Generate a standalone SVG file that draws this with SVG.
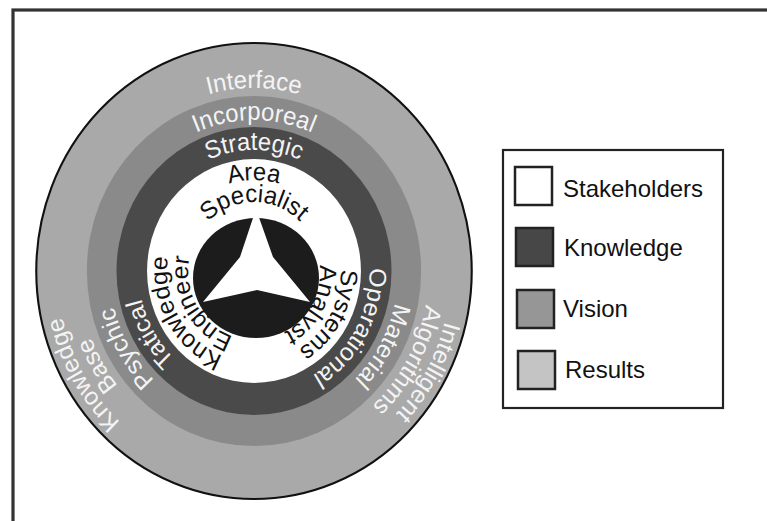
<svg xmlns="http://www.w3.org/2000/svg" xmlns:xlink="http://www.w3.org/1999/xlink" width="767" height="521" viewBox="0 0 767 521">
<style>
  .lbl { font-family: "Liberation Sans", Arial, sans-serif; font-size: 24px; }
  .rl { font-family: "Liberation Sans", Arial, sans-serif; font-size: 25px; }
  .wt { fill: #f4f4f4; }
  .bk { fill: #111; }
  .sw { stroke: #222; stroke-width: 2.5; }
</style>
<defs>
  <path id="p69" d="M-67.95,11.98 A69,69 0 1 1 67.95,11.98"/>
  <path id="p91" d="M-89.62,15.80 A91,91 0 1 1 89.62,15.80"/>
  <path id="p121" d="M-119.16,21.01 A121,121 0 1 1 119.16,21.01"/>
  <path id="p151" d="M-148.71,26.22 A151,151 0 1 1 148.71,26.22"/>
  <path id="p183" d="M-180.22,31.78 A183,183 0 1 1 180.22,31.78"/>
  <path id="p206" d="M-202.87,35.77 A206,206 0 1 1 202.87,35.77"/>
</defs>
<rect x="0" y="0" width="767" height="521" fill="#fff"/>
<rect id="frame" x="13" y="10" width="800" height="600" fill="none" stroke="#333" stroke-width="3.2"/>

<g id="disk" transform="translate(254,271) scale(0.955,1)">
  <circle id="ring-results" r="228" fill="#a9a9a9" stroke="#111" stroke-width="2.2"/>
  <circle id="ring-vision" r="175" fill="#8a8a8a"/>
  <circle id="ring-knowledge" r="144" fill="#4a4a4a"/>
  <circle id="ring-stakeholders" r="112" fill="#fff"/>

  <g id="labels-top">
    <text class="rl wt"><textPath xlink:href="#p183" href="#p183" startOffset="50%" text-anchor="middle">Interface</textPath></text>
    <text class="rl wt"><textPath xlink:href="#p151" href="#p151" startOffset="50%" text-anchor="middle">Incorporeal</textPath></text>
    <text class="rl wt"><textPath xlink:href="#p121" href="#p121" startOffset="50%" text-anchor="middle">Strategic</textPath></text>
    <text class="rl bk"><textPath xlink:href="#p91" href="#p91" startOffset="50%" text-anchor="middle">Area</textPath></text>
    <text class="rl bk"><textPath xlink:href="#p69" href="#p69" startOffset="50%" text-anchor="middle">Specialist</textPath></text>
  </g>
  <g id="labels-right" transform="rotate(119)">
    <text class="rl wt"><textPath xlink:href="#p206" href="#p206" startOffset="50%" text-anchor="middle">Intelligent</textPath></text>
    <text class="rl wt"><textPath xlink:href="#p183" href="#p183" startOffset="50%" text-anchor="middle">Algorithms</textPath></text>
    <text class="rl wt"><textPath xlink:href="#p151" href="#p151" startOffset="50%" text-anchor="middle">Material</textPath></text>
    <text class="rl wt"><textPath xlink:href="#p121" href="#p121" startOffset="50%" text-anchor="middle">Operational</textPath></text>
    <text class="rl bk"><textPath xlink:href="#p91" href="#p91" startOffset="50%" text-anchor="middle">Systems</textPath></text>
    <text class="rl bk"><textPath xlink:href="#p69" href="#p69" startOffset="50%" text-anchor="middle">Analyst</textPath></text>
  </g>
  <g id="labels-left" transform="rotate(240)">
    <text class="rl wt"><textPath xlink:href="#p206" href="#p206" startOffset="50%" text-anchor="middle">Knowledge</textPath></text>
    <text class="rl wt"><textPath xlink:href="#p183" href="#p183" startOffset="50%" text-anchor="middle">Base</textPath></text>
    <text class="rl wt"><textPath xlink:href="#p151" href="#p151" startOffset="50%" text-anchor="middle">Psychic</textPath></text>
    <text class="rl wt"><textPath xlink:href="#p121" href="#p121" startOffset="50%" text-anchor="middle">Tatical</textPath></text>
    <text class="rl bk"><textPath xlink:href="#p91" href="#p91" startOffset="50%" text-anchor="middle">Knowledge</textPath></text>
    <text class="rl bk"><textPath xlink:href="#p69" href="#p69" startOffset="50%" text-anchor="middle">Engineer</textPath></text>
  </g>
</g>

<g id="core">
  <ellipse cx="256" cy="278" rx="63" ry="60" fill="#1c1c1c"/>
  <polygon points="256,209 273,257 310,302 257,290 203,302 240,257" fill="#fff"/>
</g>

<g id="legend">
  <rect x="503" y="150" width="220" height="258" fill="#fff" stroke="#222" stroke-width="2.2"/>
  <g id="leg-stakeholders">
    <rect class="sw" x="515" y="167" width="37" height="38" fill="#fff"/>
    <text class="lbl bk" x="563" y="197">Stakeholders</text>
  </g>
  <g id="leg-knowledge">
    <rect class="sw" x="516" y="228" width="37" height="38" fill="#474747"/>
    <text class="lbl bk" x="564" y="256">Knowledge</text>
  </g>
  <g id="leg-vision">
    <rect class="sw" x="517" y="290" width="37" height="38" fill="#969696"/>
    <text class="lbl bk" x="563" y="317">Vision</text>
  </g>
  <g id="leg-results">
    <rect class="sw" x="518" y="351" width="37" height="38" fill="#c4c4c4"/>
    <text class="lbl bk" x="565" y="378">Results</text>
  </g>
</g>
<g id="connectors"/>
</svg>
